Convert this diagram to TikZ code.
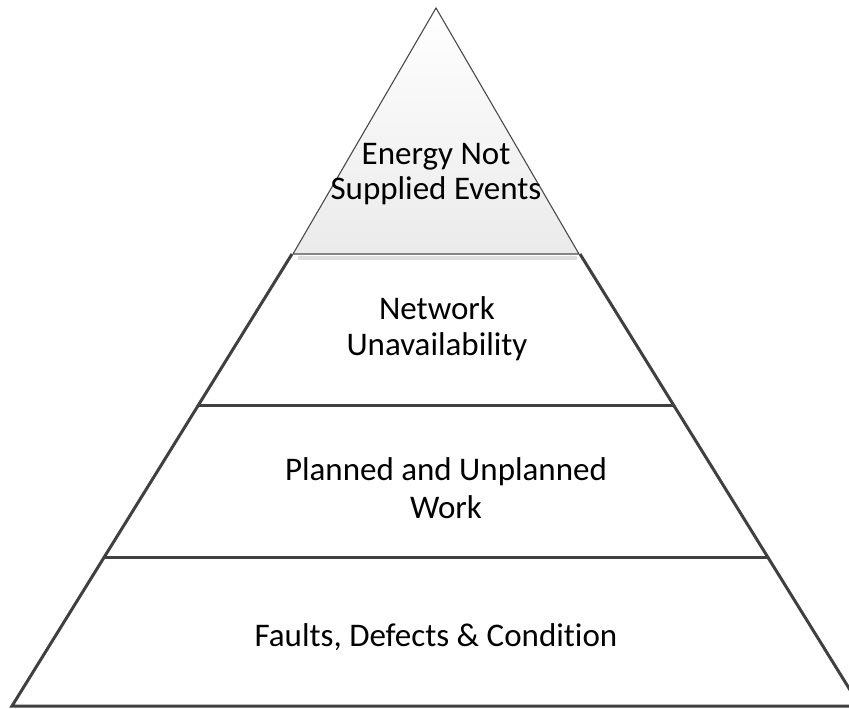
\documentclass[tikz,border=0pt]{standalone}
\usepackage{fontspec}
\setmainfont{Carlito}[Ligatures=NoCommon]
\definecolor{edge}{HTML}{404040}
\definecolor{thinedge}{HTML}{4A4A4A}
\begin{document}
\begin{tikzpicture}[x=1pt,y=-1pt,
  layer/.style={draw=edge, line width=3pt, line join=miter},
  apexedge/.style={draw=thinedge, line width=1.1pt, line join=miter},
  label/.style={font=\fontsize{33}{40}\selectfont, text=black, inner sep=0pt, anchor=base},
]
\useasboundingbox (0,0) rectangle (849,709);
\clip (0,0) rectangle (849,709);
\fill[white] (0,0) rectangle (849,709);

% corner points of the pyramid
\coordinate (apex) at (436,8);
\coordinate (capL) at (293,254);
\coordinate (capR) at (579,254);
\coordinate (topL) at (292,254);
\coordinate (topR) at (580,254);
\coordinate (midL) at (198,405);
\coordinate (midR) at (674,405);
\coordinate (lowL) at (104,557);
\coordinate (lowR) at (768,557);
\coordinate (baseL) at (12,706);
\coordinate (baseR) at (860,706);

% outer walls and base of the three lower layers
\draw[layer] (topL) -- (baseL) -- (baseR) -- (topR);
\draw[layer] (midL) -- (midR);
\draw[layer] (lowL) -- (lowR);

% soft shadow under the cap
\fill[black!13] (298,255.5) rectangle (577,259.5);

% shaded cap triangle
\shade[top color=white, bottom color=black!8] (apex) -- (capR) -- (capL) -- cycle;
\draw[apexedge] (apex) -- (capR) -- (capL) -- cycle;

% layer labels
\node[label] (ens1) at (436,164) {Energy Not};
\node[label] (ens2) at (436,199) {Supplied Events};
\node[label] (nu1) at (437,319) {Network};
\node[label] (nu2) at (437,355) {Unavailability};
\node[label] (pw1) at (446,480) {Planned and Unplanned};
\node[label] (pw2) at (446,518) {Work};
\node[label] (fdc) at (436,646) {Faults, Defects \& Condition};
\end{tikzpicture}
\end{document}
